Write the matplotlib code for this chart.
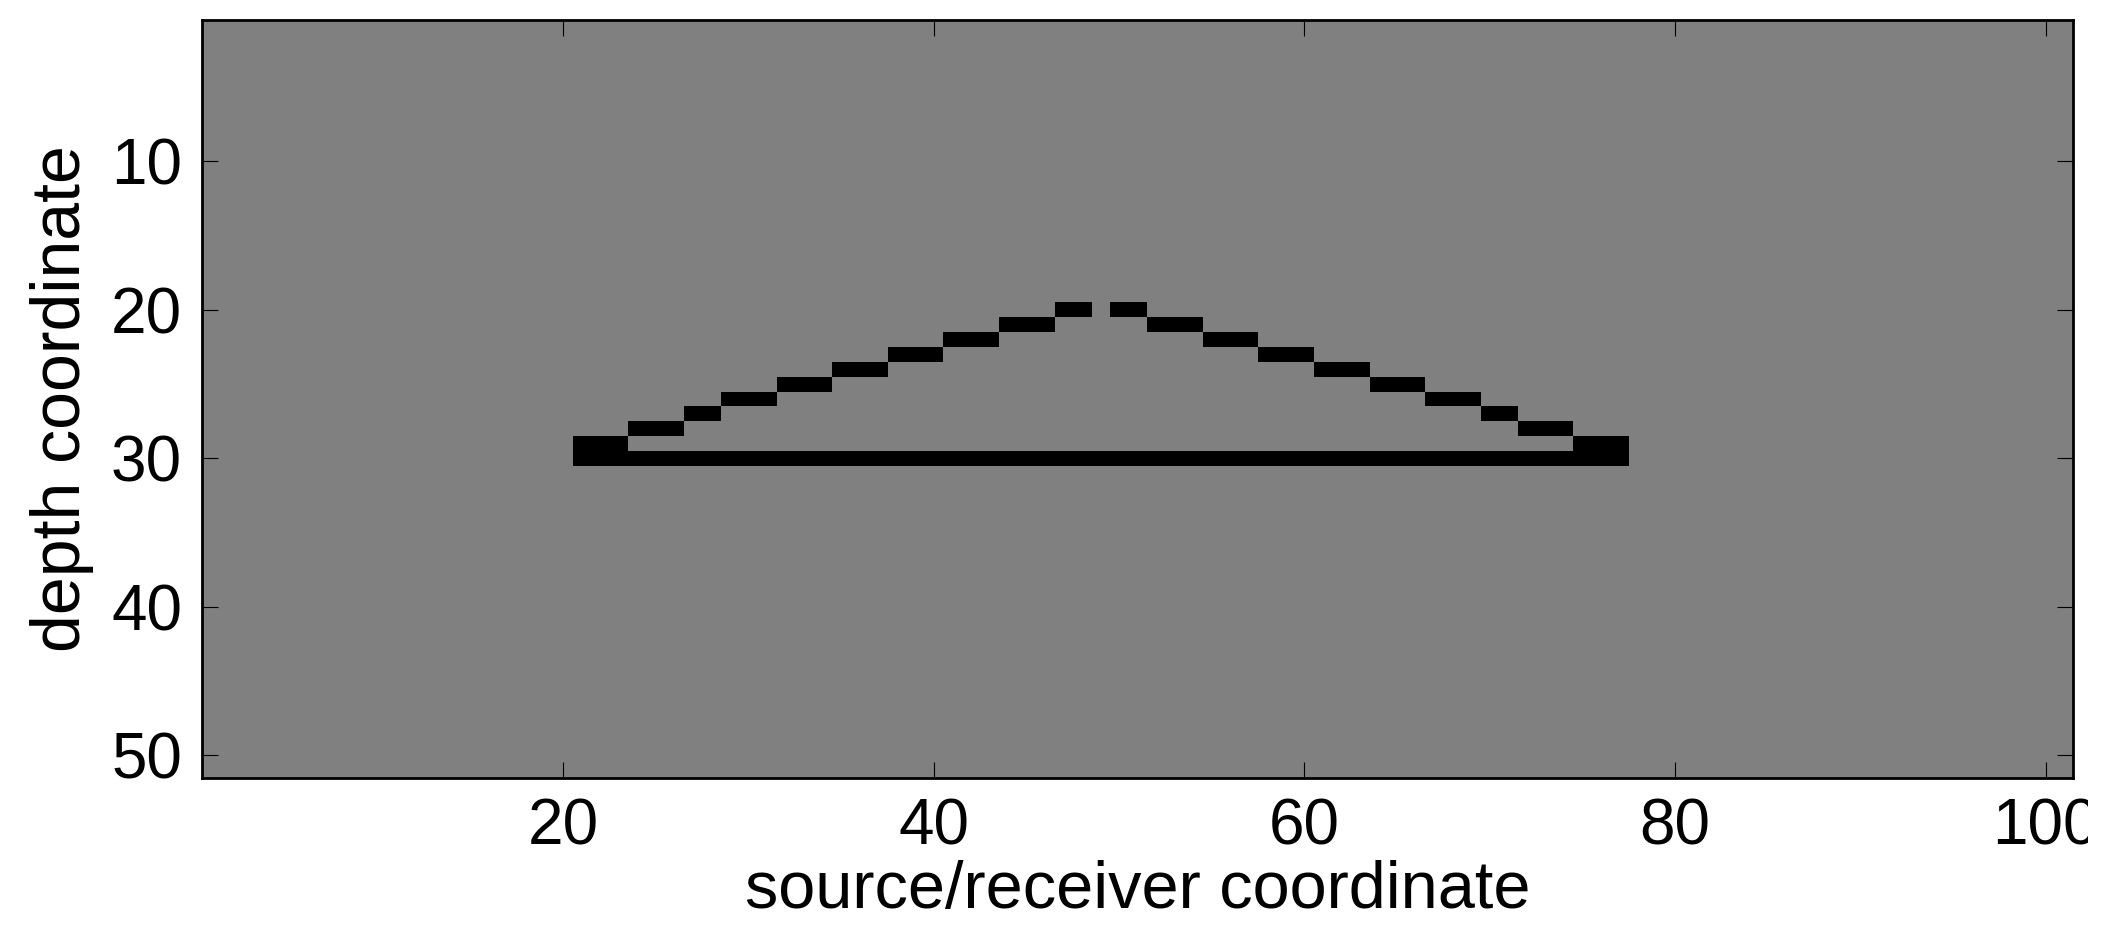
import matplotlib
matplotlib.use('Agg')
import matplotlib.pyplot as plt
from matplotlib.transforms import Bbox
import numpy as np

# model grid size (depth x source/receiver)
n_depth = 51
n_x = 101

# dipping reflector pieces: depth row and column ranges on each flank
step_rows = [20, 21, 22, 23, 24, 25, 26, 27, 28, 29]
left_start = [47, 44, 41, 38, 35, 32, 29, 27, 24, 21]
left_end = [48, 46, 43, 40, 37, 34, 31, 28, 26, 23]
right_start = [50, 52, 55, 58, 61, 64, 67, 70, 72, 75]
right_end = [51, 54, 57, 60, 63, 66, 69, 71, 74, 77]

# flat reflector
flat_row = 30
flat_start = 21
flat_end = 77

x_ticks = [20, 40, 60, 80, 100]
y_ticks = [10, 20, 30, 40, 50]

model = np.zeros((n_depth, n_x))
for r, a, b, c, d in zip(step_rows, left_start, left_end, right_start, right_end):
    model[r - 1, a - 1:b] = -1
    model[r - 1, c - 1:d] = -1
model[flat_row - 1, flat_start - 1:flat_end] = -1

plt.rcParams['font.family'] = ['Liberation Sans', 'DejaVu Sans']

fig = plt.figure(figsize=(21.11, 9.31), dpi=100)
ax = fig.add_axes([0.0955, 0.1647, 0.8867, 0.8138])
ax.imshow(model, cmap='gray', vmin=-1, vmax=1, aspect='auto',
          interpolation='nearest',
          extent=(0.5, n_x + 0.5, n_depth + 0.5, 0.5))

ax.set_xticks(x_ticks)
ax.set_yticks(y_ticks)
ax.tick_params(direction='in', length=11.5, width=0.8, top=True, right=True,
               labelsize=46, pad=14)
for s in ax.spines.values():
    s.set_linewidth(2.0)

ax.set_xlabel('source/receiver coordinate', fontsize=48, labelpad=2)
ax.set_ylabel('depth coordinate', fontsize=49, labelpad=12)

# the last x label is cut by the right edge in the original
last = ax.xaxis.get_major_ticks()[-1].label1
last.set_clip_on(True)
last.set_clip_box(Bbox.from_extents(0, 0, 2088, 931))

fig.savefig('out.png', dpi=100)
plt.close(fig)
